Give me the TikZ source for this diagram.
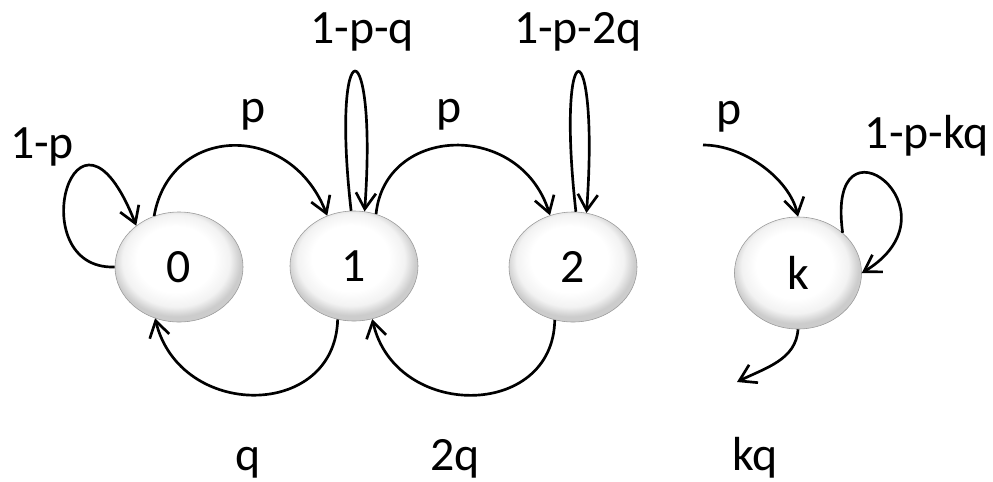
\documentclass[tikz,border=0pt]{standalone}
\usepackage{fontspec}
\setmainfont{Carlito}
\usetikzlibrary{shapes.geometric,arrows.meta}
\pgfdeclareradialshading{cellball}{\pgfpoint{-2bp}{5bp}}{color(0bp)=(white); color(15bp)=(white); color(21bp)=(black!5); color(25bp)=(black!20); color(50bp)=(black!20)}
\begin{document}
\begin{tikzpicture}[x=0.025cm, y=-0.025cm, >={Straight Barb[length=4mm,width=5mm]},
    state/.style={ellipse, draw=black!40, line width=0.4pt, shading=cellball, minimum width=3.2cm, minimum height=2.75cm, inner sep=0pt, font=\fontsize{34}{40}\selectfont},
    prob/.style={anchor=base, font=\fontsize{34}{40}\selectfont},
    trans/.style={->, line width=1.9pt}]
    \useasboundingbox (0,0) rectangle (993,481);

    \node[state] (s0) at (179,267) {0};
    \node[state] (s1) at (354,266) {1};
    \node[state] (s2) at (573,267) {2};
    \node[state, minimum width=3.175cm, minimum height=2.8cm] (sk) at (798,273) {k};
    \coordinate (kin) at (703,145);
    \coordinate (kout) at (737,382);

    \draw[trans] (s0.180) .. controls (20,270) and (75,70) .. (s0.136);
    \draw[trans] (s0.116) .. controls (170,125) and (290,120) .. (s1.118);
    \draw[trans] (s1.93) .. controls (330,25) and (378,25) .. (s1.79);
    \draw[trans] (s1.67) .. controls (385,125) and (520,120) .. (s2.114);
    \draw[trans] (s2.87) .. controls (555,25) and (600,25) .. (s2.76);
    \draw[trans] (kin) .. controls (745,145) and (790,180) .. (sk.90);
    \draw[trans] (sk.42) .. controls (825,105) and (965,210) .. (sk.0);
    \draw[trans] (sk.270) .. controls (796,360) and (765,368) .. (kout);
    \draw[trans] (s1.253) .. controls (335,420) and (180,420) .. (s0.245);
    \draw[trans] (s2.251) .. controls (553,420) and (395,420) .. (s1.289);

    \node[prob] (l00) at (42,158) {1-p};
    \node[prob] (l01) at (253,122) {p};
    \node[prob] (l11) at (362,43) {1-p-q};
    \node[prob] (l12) at (449,122) {p};
    \node[prob] (l22) at (578,43) {1-p-2q};
    \node[prob] (lk) at (729,124) {p};
    \node[prob] (lkk) at (927,148) {1-p-kq};
    \node[prob] (l10) at (248,470) {q};
    \node[prob] (l21) at (455,470) {2q};
    \node[prob] (lkq) at (755,470) {kq};
\end{tikzpicture}
\end{document}
